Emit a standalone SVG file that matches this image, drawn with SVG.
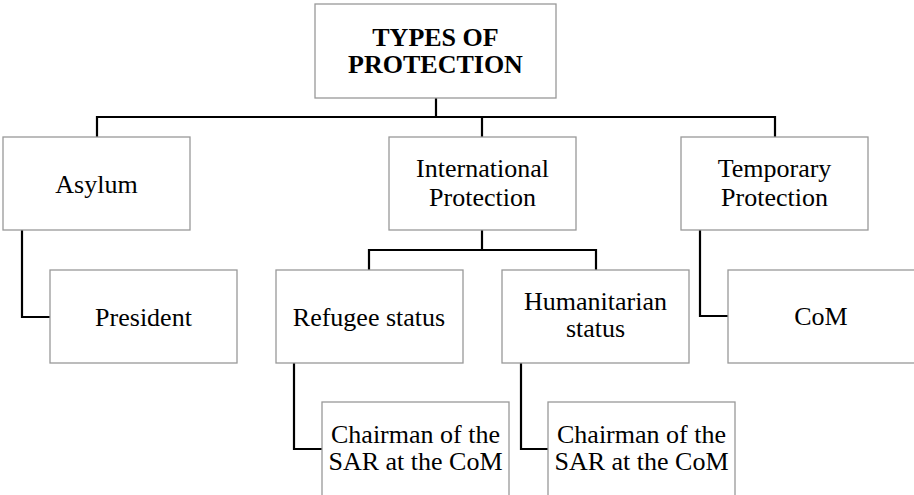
<svg xmlns="http://www.w3.org/2000/svg" width="914" height="495" viewBox="0 0 914 495">
<style>
.box{fill:#fff;stroke:#999;stroke-width:1.3}
text{font-family:'Liberation Serif','Times New Roman','DejaVu Serif',serif;font-size:26px;fill:#000;text-anchor:middle}
.b{font-weight:bold}
.c{fill:none;stroke:#000;stroke-width:2.2}
</style>
<rect width="914" height="495" fill="#fff"/>
<g id="connectors">
<path class="c" d="M436,98 V117 M97,137 V117 H775 V137 M482,117 V137"/>
<path class="c" d="M22,230 V317 H50"/>
<path class="c" d="M482,230 V250 M369,270 V250 H596 V270"/>
<path class="c" d="M700,230 V316 H728"/>
<path class="c" d="M294,363 V449 H322"/>
<path class="c" d="M521,363 V449 H548"/>
</g>
<g id="types">
<rect class="box" x="315" y="4" width="241" height="94"/>
<text class="b" x="435.5" y="46">TYPES OF</text>
<text class="b" x="435.5" y="73">PROTECTION</text>
</g>
<g id="asylum">
<rect class="box" x="3" y="137" width="187" height="93"/>
<text x="96.5" y="193">Asylum</text>
</g>
<g id="international">
<rect class="box" x="389" y="137" width="187" height="93"/>
<text x="482.5" y="177">International</text>
<text x="482.5" y="206">Protection</text>
</g>
<g id="temporary">
<rect class="box" x="681" y="137" width="187" height="93"/>
<text x="774.5" y="177">Temporary</text>
<text x="774.5" y="206">Protection</text>
</g>
<g id="president">
<rect class="box" x="50" y="270" width="187" height="93"/>
<text x="143.5" y="326">President</text>
</g>
<g id="refugee">
<rect class="box" x="276" y="270" width="187" height="93"/>
<text x="369" y="326">Refugee status</text>
</g>
<g id="humanitarian">
<rect class="box" x="502" y="270" width="187" height="93"/>
<text x="595.5" y="310">Humanitarian</text>
<text x="595.5" y="337">status</text>
</g>
<g id="com">
<rect class="box" x="728" y="270" width="190" height="93"/>
<text x="821" y="325">CoM</text>
</g>
<g id="chairman1">
<rect class="box" x="322" y="402" width="187" height="100"/>
<text x="415.5" y="443">Chairman of the</text>
<text x="415.5" y="470">SAR at the CoM</text>
</g>
<g id="chairman2">
<rect class="box" x="548" y="402" width="187" height="100"/>
<text x="641.5" y="443">Chairman of the</text>
<text x="641.5" y="470">SAR at the CoM</text>
</g>
</svg>
